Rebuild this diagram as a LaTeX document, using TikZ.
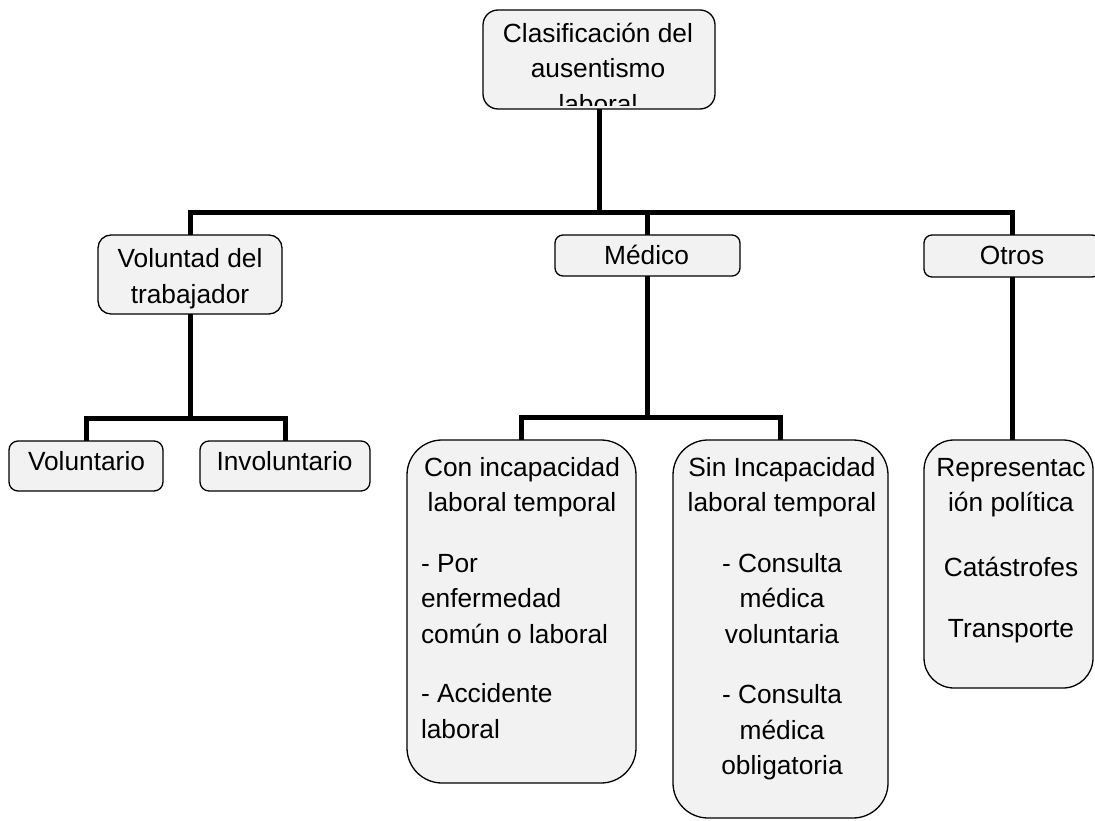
\documentclass[tikz,border=0pt]{standalone}
\usepackage{fontspec}
\setmainfont{Liberation Sans}
\definecolor{boxfill}{HTML}{F2F2F2}
\newcommand{\hs}{\rule{0pt}{24pt}}
\begin{document}
\begin{tikzpicture}[x=1pt,y=-1pt,
  box/.style={draw=black, line width=1.3pt, fill=boxfill, rectangle, inner sep=0pt, outer sep=0pt},
  txt/.style={inner sep=0pt, outer sep=0pt, anchor=north, align=center, font=\fontsize{26.3}{35.5}\selectfont},
  conn/.style={draw=black, line width=5pt}]
\useasboundingbox (0,0) rectangle (1095,821);
% boxes
\node[box, rounded corners=15pt, minimum width=232pt, minimum height=99pt] (top) at (599,59.5) {};
\node[box, rounded corners=13pt, minimum width=184pt, minimum height=79pt] (vol) at (190,274.5) {};
\node[box, rounded corners=8pt, minimum width=185pt, minimum height=41pt] (med) at (647.5,255.5) {};
\node[box, rounded corners=8pt, minimum width=176pt, minimum height=42pt] (otr) at (1012,256) {};
\node[box, rounded corners=9pt, minimum width=154pt, minimum height=50pt] (vto) at (86,466) {};
\node[box, rounded corners=9pt, minimum width=170pt, minimum height=50pt] (ivo) at (285,466) {};
\node[box, rounded corners=35pt, minimum width=229pt, minimum height=343pt] (con) at (521.5,611.5) {};
\node[box, rounded corners=35pt, minimum width=215pt, minimum height=378pt] (sin) at (780.5,629) {};
\node[box, rounded corners=30pt, minimum width=169pt, minimum height=248pt] (rep) at (1008.5,564) {};
% junctions
\coordinate (j0) at (599,213);
\coordinate (j1) at (190,418);
\coordinate (j2) at (647.5,417);
% connectors
\draw[conn] (top.south) -- (top.south |- j0);
\draw[conn] (vol.north) |- (j0) -| (otr.north);
\draw[conn] (med.north) -- (med.north |- j0);
\draw[conn] (vol.south) -- (j1);
\draw[conn] (vto.north) |- (j1) -| (ivo.north);
\draw[conn] (med.south) -- (j2);
\draw[conn] (con.north) |- (j2) -| (sin.north);
\draw[conn] (otr.south) -- (otr.south |- rep.north);
% texts
\begin{scope}
\clip (485,12) rectangle (713,106);
\node[txt] (toptxt) at (598,18.5) {\hs Clasificación del\\ausentismo\\laboral};
\end{scope}
\node[txt] (voltxt) at (190,243.5) {\hs Voluntad del\\trabajador};
\node[txt] (medtxt) at (646.5,241) {\hs Médico};
\node[txt] (otrtxt) at (1012,241) {\hs Otros};
\node[txt] (vtotxt) at (86.5,446.5) {\hs Voluntario};
\node[txt] (ivotxt) at (284.5,446.5) {\hs Involuntario};
\node[txt] (conhead) at (522,452) {\hs Con incapacidad\\laboral temporal};
\node[txt, anchor=north west, align=left] (conbody) at (421,548) {\hs - Por\\enfermedad\\común o laboral\\[24pt]- Accidente\\laboral};
\node[txt] (sintxt) at (782,452) {\hs Sin Incapacidad\\laboral temporal\\[25pt]- Consulta\\médica\\voluntaria\\[25pt]- Consulta\\médica\\obligatoria};
\node[txt] (reptxt) at (1011,452) {\hs Representac\\ión política\\[29pt]Catástrofes\\[26pt]Transporte};
\end{tikzpicture}
\end{document}
